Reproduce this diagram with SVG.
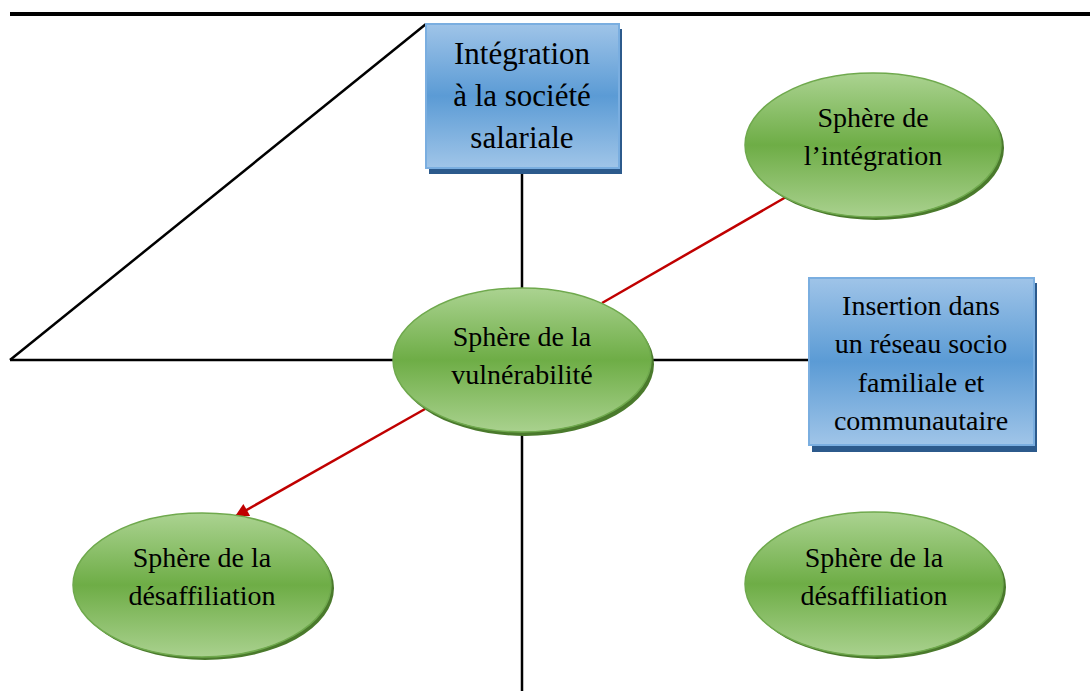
<svg xmlns="http://www.w3.org/2000/svg" width="1090" height="691" viewBox="0 0 1090 691">
<defs>
<linearGradient id="gGreen" x1="0" y1="0" x2="0" y2="1">
<stop offset="0" stop-color="#abd391"/>
<stop offset="0.5" stop-color="#6ead46"/>
<stop offset="1" stop-color="#a9d18e"/>
</linearGradient>
<linearGradient id="gBlue" x1="0" y1="0" x2="0" y2="1">
<stop offset="0" stop-color="#9fc4e8"/>
<stop offset="0.5" stop-color="#5b9bd5"/>
<stop offset="1" stop-color="#a0c5e8"/>
</linearGradient>
<marker id="arrowRed" viewBox="0 0 10 10" refX="9" refY="5" markerWidth="6.5" markerHeight="5.5" orient="auto" markerUnits="strokeWidth">
<path d="M0,0 L10,5 L0,10 z" fill="#c00000"/>
</marker>
</defs>
<style>
.ell{fill:url(#gGreen);stroke:#6fa94d;stroke-width:1.5}
.ellsh{fill:#4a7a2c}
.box{fill:url(#gBlue);stroke:#7aaee0;stroke-width:2}
.boxsh{fill:#2c5a8c}
.blk{stroke:#000;stroke-width:2.5;fill:none}
.red{stroke:#c00000;stroke-width:2.5;fill:none}
text{font-family:"Liberation Serif","Times New Roman",serif;fill:#000;text-anchor:middle}
.t31{font-size:31px}
.t28{font-size:28px}
</style>
<rect width="1090" height="691" fill="#fff"/>
<g id="connectors">
<line x1="10" y1="14" x2="1090" y2="14" stroke="#000" stroke-width="4"/>
<line class="blk" x1="10" y1="360" x2="426" y2="24"/>
<line class="blk" x1="10" y1="360" x2="394" y2="360"/>
<line class="blk" x1="650" y1="360" x2="809" y2="360"/>
<line class="blk" x1="522" y1="168" x2="522" y2="289"/>
<line class="blk" x1="522" y1="432" x2="522" y2="691"/>
<line class="red" x1="602" y1="303" x2="793" y2="193"/>
<line class="red" x1="425" y1="409" x2="236" y2="516" marker-end="url(#arrowRed)"/>
</g>
<g id="box-integration-societe">
<rect class="boxsh" x="429" y="29" width="193" height="145"/>
<rect class="box" x="426" y="24" width="193" height="144"/>
<text class="t31" x="522" y="64">Intégration</text>
<text class="t31" x="522" y="106">à la société</text>
<text class="t31" x="522" y="148">salariale</text>
</g>
<g id="ellipse-integration">
<ellipse class="ellsh" cx="876" cy="148" rx="128" ry="72"/>
<ellipse class="ell" cx="873" cy="145" rx="128" ry="72"/>
<text class="t28" x="873" y="127">Sphère de</text>
<text class="t28" x="873" y="165">l’intégration</text>
</g>
<g id="ellipse-vulnerabilite">
<ellipse class="ellsh" cx="525" cy="364" rx="129" ry="72"/>
<ellipse class="ell" cx="522" cy="360" rx="129" ry="72"/>
<text class="t28" x="522" y="346">Sphère de la</text>
<text class="t28" x="522" y="384">vulnérabilité</text>
</g>
<g id="box-insertion">
<rect class="boxsh" x="812" y="283" width="225" height="169"/>
<rect class="box" x="809" y="278" width="225" height="167"/>
<text class="t28" x="921" y="315">Insertion dans</text>
<text class="t28" x="921" y="353">un réseau socio</text>
<text class="t28" x="921" y="392">familiale et</text>
<text class="t28" x="921" y="430">communautaire</text>
</g>
<g id="ellipse-desaffiliation-left">
<ellipse class="ellsh" cx="205" cy="588" rx="129" ry="72"/>
<ellipse class="ell" cx="202" cy="585" rx="129" ry="72"/>
<text class="t28" x="202" y="567">Sphère de la</text>
<text class="t28" x="202" y="605">désaffiliation</text>
</g>
<g id="ellipse-desaffiliation-right">
<ellipse class="ellsh" cx="877" cy="587" rx="129" ry="72"/>
<ellipse class="ell" cx="874" cy="584" rx="129" ry="72"/>
<text class="t28" x="874" y="567">Sphère de la</text>
<text class="t28" x="874" y="605">désaffiliation</text>
</g>
</svg>
